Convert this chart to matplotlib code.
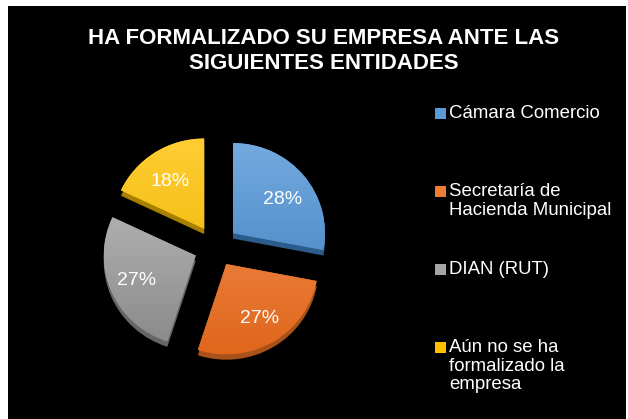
import numpy as np
import matplotlib
matplotlib.use("Agg")
import matplotlib.pyplot as plt
from matplotlib.patches import Rectangle

plt.rcParams['font.family'] = ['Liberation Sans', 'DejaVu Sans']

# Data
labels = ["Cámara Comercio", "Secretaría de\nHacienda Municipal", "DIAN (RUT)",
          "Aún no se ha\nformalizado la\nempresa"]
values = [28, 27, 27, 18]
title = "HA FORMALIZADO SU EMPRESA ANTE LAS\nSIGUIENTES ENTIDADES"

# Colors (top light, bottom dark, side)
top_cols = ["#73A9DE", "#F28E52", "#BDBDBD", "#FFCD33"]
bot_cols = ["#4381C2", "#E0671C", "#8A8A8A", "#EDB400"]
side_cols = ["#2C5C8C", "#A8521A", "#666666", "#A88000"]
legend_cols = ["#5B9BD5", "#ED7D31", "#A5A5A5", "#FFC000"]

W, H = 628, 419
fig = plt.figure(figsize=(W / 100, H / 100), dpi=100, facecolor="white")


def fx(x):
    return x / W


def fy(y):
    return 1 - y / H


# black chart area
fig.patches.append(Rectangle((fx(8), 0), fx(626) - fx(8), fy(6), transform=fig.transFigure,
                             facecolor="black", edgecolor="none", zorder=-5))

fig.text(fx(324), fy(51), title, ha="center", va="center", color="white",
         fontsize=16, fontweight="bold", linespacing=1.22)

# pie axes, square in pixels
cx, cy, half, rpx = 216, 247, 130, 92
ax = fig.add_axes([fx(cx - half), fy(cy + half), 2 * half / W, 2 * half / H])
ax.set_facecolor("none")
ax.axis("off")

explode = [0.24, 0.22, 0.24, 0.24]
side, _ = ax.pie(values, explode=explode, startangle=90, counterclock=False,
                 colors=side_cols, center=(0, -0.06), wedgeprops=dict(linewidth=0))
for w in side:
    w.set_zorder(1)

wedges, _, autotexts = ax.pie(values, explode=explode, startangle=90, counterclock=False,
                              colors=bot_cols, autopct="%1.0f%%", pctdistance=0.7,
                              wedgeprops=dict(linewidth=0),
                              textprops=dict(color="white", fontsize=14))
for w, c1, c2 in zip(wedges, top_cols, bot_cols):
    w.set_zorder(2)
    x0, y0 = w.center
    r = w.r
    a = np.array(matplotlib.colors.to_rgb(c1))
    b = np.array(matplotlib.colors.to_rgb(c2))
    t = np.linspace(0, 1, 64)[:, None]
    grad = (a * (1 - t) + b * t)[:, None, :]
    im = ax.imshow(grad, extent=(x0 - r, x0 + r, y0 - r, y0 + r), aspect="auto",
                   origin="upper", zorder=2.5, interpolation="bilinear")
    im.set_clip_path(w)
for t_ in autotexts:
    t_.set_zorder(4)
    # top of the tilted pie looks a little flatter
    x_, y_ = t_.get_position()
    if y_ > 0:
        t_.set_position((x_, y_ - 0.07))

lim = half / rpx
ax.set_xlim(-lim, lim)
ax.set_ylim(-lim * 1.02, lim * 1.02)

# legend
for i, (lab, col) in enumerate(zip(labels, legend_cols)):
    y = 113 + 78 * i
    fig.patches.append(Rectangle((fx(435), fy(y + 6)), 11 / W, 11 / H,
                                 transform=fig.transFigure, facecolor=col,
                                 edgecolor="none", zorder=3))
    fig.text(fx(449), fy(y - 8), lab, ha="left", va="top", color="white",
             fontsize=13.4, linespacing=1.13)

fig.savefig("out.png", dpi=100, facecolor="white")
